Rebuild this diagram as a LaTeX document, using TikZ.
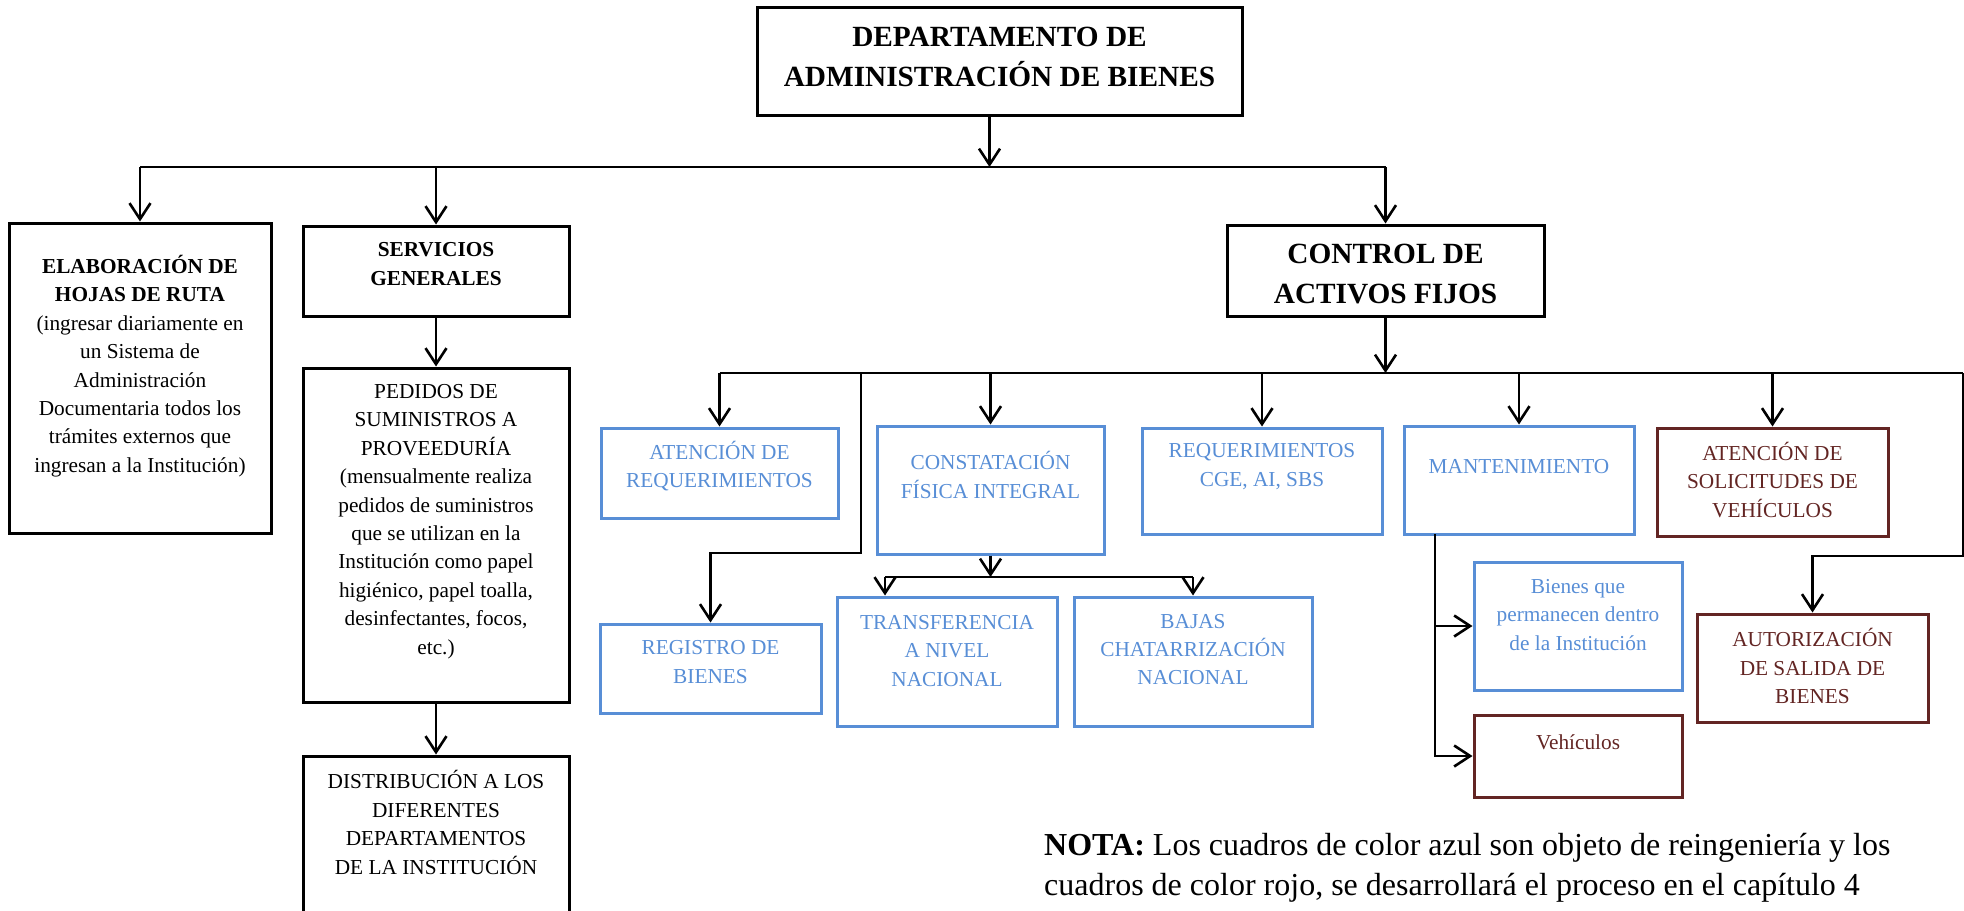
\documentclass[tikz,border=0pt]{standalone}
\usepackage{fontspec}
\setmainfont{Liberation Serif}
\usetikzlibrary{arrows.meta}
\definecolor{boxblue}{RGB}{88,142,214}
\definecolor{boxred}{RGB}{99,37,35}

\begin{document}
\begin{tikzpicture}[x=1pt,y=-1pt,
  frame/.style={draw, line width=3pt, inner sep=0pt, rectangle},
  blackbox/.style={frame, draw=black},
  bluebox/.style={frame, draw=boxblue},
  redbox/.style={frame, draw=boxred},
  txt/.style={align=center, inner sep=0pt, font=\fontsize{21.3}{28.4}\selectfont},
  bluetxt/.style={txt, text=boxblue},
  redtxt/.style={txt, text=boxred},
  headtxt/.style={align=center, inner sep=0pt, font=\fontsize{29.3}{40}\selectfont\bfseries},
  link/.style={line width=2.6pt},
  arr/.style={link, -{Straight Barb[length=16pt,width=21pt]}},
]
\useasboundingbox (0,0) rectangle (1964,910);

% ---------- boxes ----------
\node[blackbox, minimum width=485pt, minimum height=108pt] (top) at (999.5,61) {};
\node[blackbox, minimum width=262pt, minimum height=310pt] (elab) at (140,378) {};
\node[blackbox, minimum width=266pt, minimum height=90pt] (serv) at (436,271) {};
\node[blackbox, minimum width=266pt, minimum height=334pt] (ped) at (436,535) {};
\node[blackbox, minimum width=266pt, minimum height=169pt] (dist) at (436,840.5) {};
\node[blackbox, minimum width=317pt, minimum height=91pt] (ctrl) at (1385.5,270.5) {};

\node[bluebox, minimum width=237pt, minimum height=90pt] (atreq) at (719.5,473) {};
\node[bluebox, minimum width=227pt, minimum height=128pt] (const) at (990.5,490) {};
\node[bluebox, minimum width=240pt, minimum height=106pt] (reqcge) at (1262,481) {};
\node[bluebox, minimum width=230pt, minimum height=108pt] (mant) at (1519,480) {};
\node[redbox, minimum width=231pt, minimum height=108pt] (atsol) at (1772.5,482) {};

\node[bluebox, minimum width=221pt, minimum height=89pt] (reg) at (710.5,668.5) {};
\node[bluebox, minimum width=220pt, minimum height=129pt] (trans) at (947,661.5) {};
\node[bluebox, minimum width=238pt, minimum height=129pt] (bajas) at (1193,661.5) {};
\node[bluebox, minimum width=208pt, minimum height=128pt] (bien) at (1578,626) {};
\node[redbox, minimum width=208pt, minimum height=82pt] (veh) at (1578,756) {};
\node[redbox, minimum width=231pt, minimum height=108pt] (autor) at (1812.5,668) {};

% ---------- texts ----------
\node[headtxt] (top-t) at (999.5,57) {DEPARTAMENTO DE\\ADMINISTRACIÓN DE BIENES};
\node[headtxt] (ctrl-t) at (1385.5,274) {CONTROL DE\\ACTIVOS FIJOS};
\node[txt] (elab-t) at (140,366) {\textbf{ELABORACIÓN DE}\\\textbf{HOJAS DE RUTA}\\(ingresar diariamente en\\un Sistema de\\Administración\\Documentaria todos los\\trámites externos que\\ingresan a la Institución)};
\node[txt] (serv-t) at (436,264) {\textbf{SERVICIOS}\\\textbf{GENERALES}};
\node[txt] (ped-t) at (436,521.5) {PEDIDOS DE\\SUMINISTROS A\\PROVEEDURÍA\\(mensualmente realiza\\pedidos de suministros\\que se utilizan en la\\Institución como papel\\higiénico, papel toalla,\\desinfectantes, focos,\\etc.)};
\node[txt] (dist-t) at (436,822.5) {DISTRIBUCIÓN A LOS\\DIFERENTES\\DEPARTAMENTOS\\DE LA INSTITUCIÓN};

\node[bluetxt] (atreq-t) at (719.5,466) {ATENCIÓN DE\\REQUERIMIENTOS};
\node[bluetxt] (reg-t) at (710.5,662) {REGISTRO DE\\BIENES};
\node[bluetxt] (const-t) at (990.5,475) {CONSTATACIÓN\\FÍSICA INTEGRAL};
\node[bluetxt] (trans-t) at (947,651) {TRANSFERENCIA\\A NIVEL\\NACIONAL};
\node[bluetxt] (bajas-t) at (1193,649.5) {BAJAS\\CHATARRIZACIÓN\\NACIONAL};
\node[bluetxt] (reqcge-t) at (1262,466.5) {REQUERIMIENTOS\\CGE, AI, SBS};
\node[bluetxt] (mant-t) at (1519,467) {MANTENIMIENTO};
\node[redtxt] (atsol-t) at (1772.5,480) {ATENCIÓN DE\\SOLICITUDES DE\\VEHÍCULOS};
\node[bluetxt] (bien-t) at (1578,615) {Bienes que\\permanecen dentro\\de la Institución};
\node[redtxt] (veh-t) at (1578,742) {Vehículos};
\node[redtxt] (autor-t) at (1812.5,666) {AUTORIZACIÓN\\DE SALIDA DE\\BIENES};

\node[anchor=west, align=left, inner sep=0pt, font=\fontsize{32}{40}\selectfont] (nota) at (1044,868)
  {\textbf{NOTA:} Los cuadros de color azul son objeto de reingeniería y los\\cuadros de color rojo, se desarrollará el proceso en el capítulo 4};

% ---------- bus coordinates ----------
\coordinate (busA) at (0,167);
\coordinate (busB) at (0,373);
\coordinate (busC) at (0,577);
\coordinate (regtap) at (861,373);
\coordinate (regknee) at (861,553);
\coordinate (trtap) at (885,577);
\coordinate (rtap) at (1963,373);
\coordinate (rknee) at (1963,556);
\coordinate (mtap) at (1435,534);
\coordinate (mend) at (1435,757);

% ---------- first level ----------
\draw[arr] ([xshift=-10pt]top.south) -- ([xshift=-10pt]top.south |- busA);
\draw[link] (elab.north |- busA) -- (ctrl.north |- busA);
\draw[arr] (elab.north |- busA) -- (elab.north);
\draw[arr] (serv.north |- busA) -- (serv.north);
\draw[arr] (ctrl.north |- busA) -- (ctrl.north);

\draw[arr] (serv.south) -- (ped.north);
\draw[arr] (ped.south) -- (dist.north);

% ---------- second level ----------
\draw[arr] (ctrl.south) -- (ctrl.south |- busB);
\draw[link] (atreq.north |- busB) -- (rtap);
\draw[arr] (atreq.north |- busB) -- (atreq.north);
\draw[arr] (const.north |- busB) -- (const.north);
\draw[arr] (reqcge.north |- busB) -- (reqcge.north);
\draw[arr] (mant.north |- busB) -- (mant.north);
\draw[arr] (atsol.north |- busB) -- (atsol.north);

\draw[arr] (regtap) -- (regknee) -| (reg.north);
\draw[arr] (rtap) -- (rknee) -| (autor.north);

% ---------- constatación branch ----------
\draw[arr] (const.south) -- (const.south |- busC);
\draw[link] (trtap) -- (bajas.north |- busC);
\draw[arr] (trtap) -- (trtap |- trans.north);
\draw[arr] (bajas.north |- busC) -- (bajas.north);

% ---------- mantenimiento branch ----------
\draw[link] (mtap) -- (mend);
\draw[arr] (mtap) |- (bien.west);
\draw[arr] (mtap) |- (veh.west);
\end{tikzpicture}
\end{document}
